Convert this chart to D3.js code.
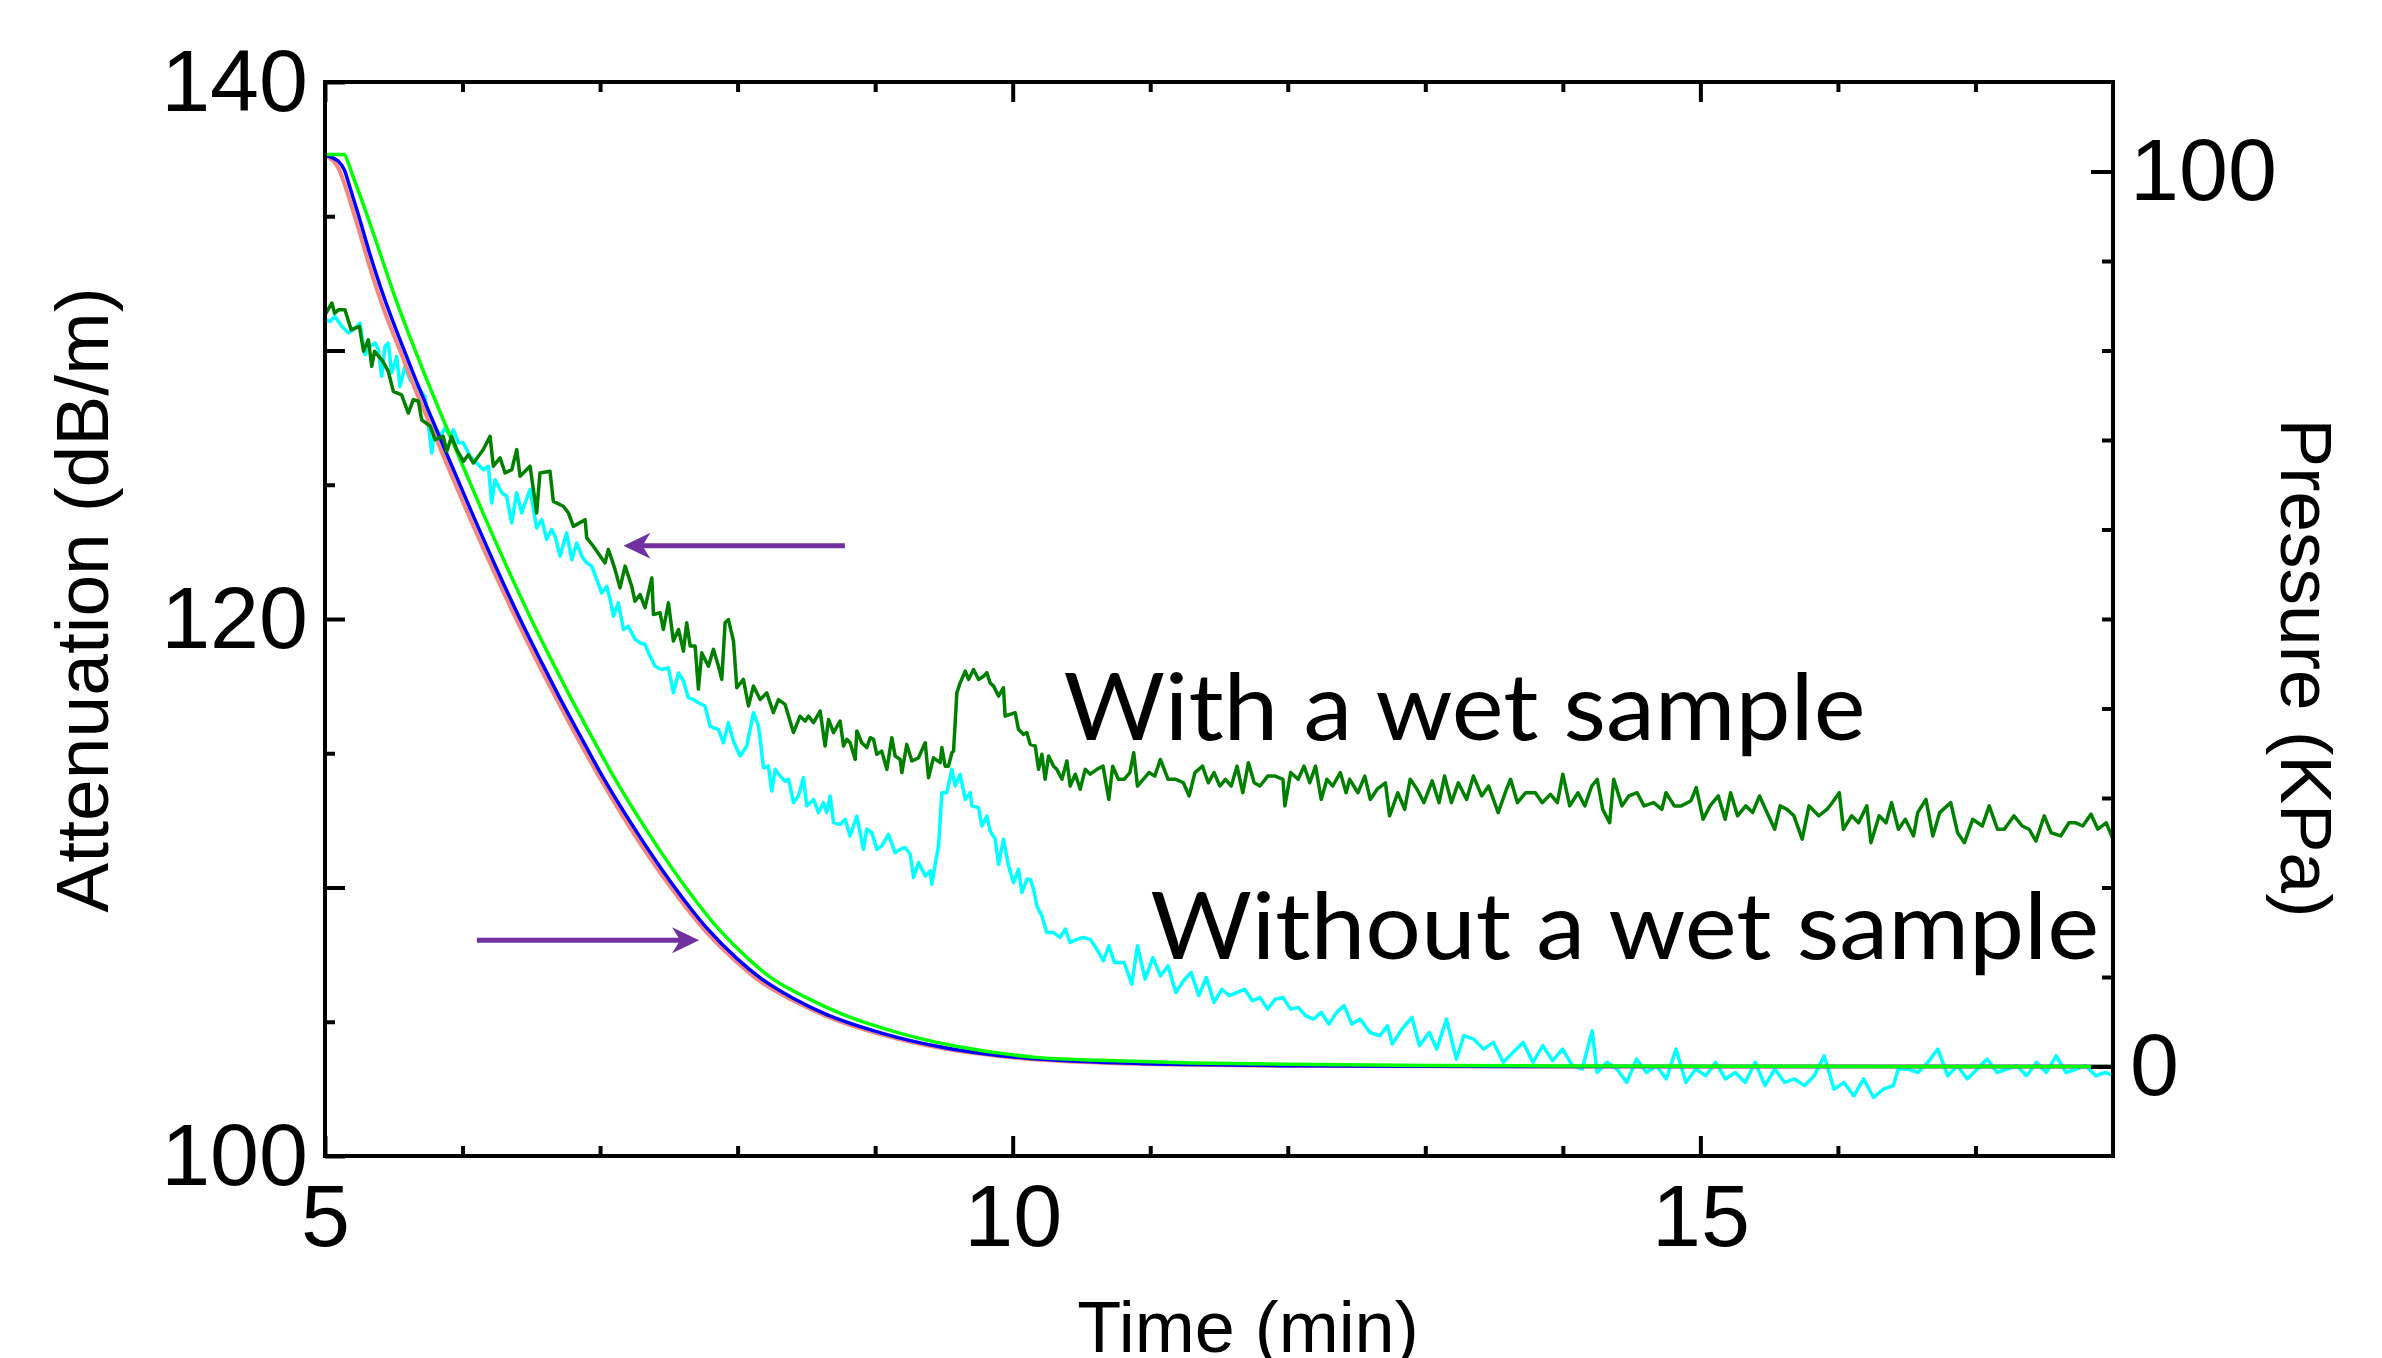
<!DOCTYPE html>
<html>
<head>
<meta charset="utf-8">
<script src="https://cdn.jsdelivr.net/npm/d3@7"></script>
<style>
  html, body { margin: 0; padding: 0; background: #fff; }
  svg { display: block; }
</style>
</head>
<body>
<div id="container"></div>
<script>
const width = 2382;
const height = 1358;
const margin = { t: 82, r: 269, b: 202, l: 325 };

// axes
const timeDomain = [5, 18];
const timeMajor = [5, 10, 15];
const timeMinor = [6, 7, 8, 9, 11, 12, 13, 14, 16, 17];
const attDomain = [100, 140];
const attMajor = [100, 110, 120, 130, 140];
const attLabels = [100, 120, 140];
const attMinor = [105, 115, 125, 135];
const presDomain = [-10, 110];
const presMajor = [0, 100];
const presMinor = [10, 20, 30, 40, 50, 60, 70, 80, 90];

// pressure curves, [time (min), pressure (KPa)]
const pressureRed = [[5.00,101.8],[5.06,101.2],[5.10,100.3],[5.14,98.7],[5.18,96.8],[5.24,93.8],[5.32,89.6],[5.43,84.5],[5.54,80.2],[5.65,75.9],[5.76,71.9],[5.90,66.8],[6.07,60.7],[6.24,54.9],[6.40,49.7],[6.60,43.5],[6.71,40.3],[6.85,36.3],[7.00,32.2],[7.25,25.9],[7.51,20.1],[7.78,14.9],[8.00,11.6],[8.165,9.5],[8.40,7.4],[8.64,5.65],[9.06,3.5],[9.47,2.08],[10.03,0.96],[10.64,0.43],[11.3,0.19],[12.0,0.08],[13.0,0.02],[14.0,0.0],[18.0,0.0]];
const pressureBlue = [[5.00,101.8],[5.06,101.5],[5.10,101.1],[5.14,100.2],[5.18,98.3],[5.24,95.3],[5.32,91.1],[5.43,85.9],[5.54,81.4],[5.65,77.1],[5.76,73.0],[5.90,67.9],[6.07,61.8],[6.24,55.9],[6.40,50.6],[6.60,44.4],[6.71,41.1],[6.85,37.1],[7.00,32.9],[7.25,26.6],[7.51,20.7],[7.78,15.4],[8.00,12.0],[8.165,9.9],[8.40,7.66],[8.64,5.86],[9.06,3.68],[9.47,2.2],[10.03,1.02],[10.64,0.47],[11.3,0.21],[12.0,0.09],[13.0,0.03],[14.0,0.0],[18.0,0.0]];
const pressureGreen = [[5.00,101.9],[5.14,101.9],[5.17,100.9],[5.20,99.6],[5.263,97.0],[5.32,94.5],[5.40,90.9],[5.51,85.9],[5.62,81.4],[5.73,77.1],[5.84,73.0],[5.98,67.9],[6.15,61.8],[6.32,55.9],[6.48,50.6],[6.68,44.4],[6.79,41.1],[6.93,37.1],[7.08,32.9],[7.33,26.6],[7.59,20.7],[7.86,15.4],[8.08,12.0],[8.245,9.9],[8.50,7.7],[8.76,5.86],[9.19,3.68],[9.61,2.2],[10.17,1.02],[10.64,0.7],[11.3,0.4],[12.0,0.25],[13.0,0.12],[14.0,0.06],[15.0,0.03],[18.0,0.0]];

// attenuation, [time (min), dB/m]
const withWet = [[5.00,131.33],[5.05,131.77],[5.07,131.39],[5.10,131.52],[5.145,131.52],[5.19,130.77],[5.25,130.90],[5.28,129.97],[5.315,130.40],[5.34,129.41],[5.36,129.97],[5.42,129.60],[5.46,129.22],[5.497,128.48],[5.557,128.35],[5.606,127.67],[5.642,128.17],[5.679,128.11],[5.703,127.42],[5.764,127.18],[5.80,126.68],[5.86,126.80],[5.885,126.24],[5.921,126.80],[5.958,126.31],[6.006,125.87],[6.042,126.12],[6.079,125.81],[6.151,126.31],[6.20,126.80],[6.224,125.69],[6.273,126.0],[6.309,125.44],[6.358,125.56],[6.394,126.31],[6.418,125.32],[6.491,125.69],[6.539,123.95],[6.563,125.44],[6.636,125.50],[6.66,124.38],[6.733,124.20],[6.77,123.95],[6.806,123.45],[6.891,123.70],[6.903,123.02],[6.951,122.71],[7.036,122.09],[7.06,122.59],[7.085,122.22],[7.109,121.84],[7.145,121.16],[7.182,121.97],[7.23,121.22],[7.254,120.66],[7.291,120.91],[7.327,120.42],[7.376,121.53],[7.388,120.17],[7.436,120.23],[7.46,119.61],[7.497,120.60],[7.533,119.18],[7.57,119.61],[7.606,118.80],[7.63,119.86],[7.655,118.99],[7.691,118.99],[7.715,117.39],[7.739,118.74],[7.788,118.24],[7.824,118.87],[7.861,118.24],[7.885,117.75],[7.909,119.86],[7.933,119.98],[7.97,119.18],[7.994,117.44],[8.042,117.75],[8.079,116.76],[8.115,117.50],[8.164,117.0],[8.212,117.25],[8.26,116.51],[8.297,117.0],[8.345,116.82],[8.406,115.77],[8.454,116.38],[8.491,116.2],[8.515,116.38],[8.552,116.14],[8.60,116.57],[8.636,115.27],[8.661,116.26],[8.697,115.77],[8.745,116.2],[8.77,115.27],[8.794,115.52],[8.818,115.39],[8.855,114.77],[8.867,115.83],[8.903,115.39],[8.939,115.21],[8.964,115.58],[8.988,115.52],[9.012,114.96],[9.048,115.08],[9.085,114.40],[9.121,115.58],[9.145,114.90],[9.182,114.77],[9.194,114.28],[9.23,115.33],[9.267,114.71],[9.315,114.83],[9.364,115.39],[9.388,114.09],[9.424,114.83],[9.473,114.65],[9.485,115.21],[9.509,114.52],[9.533,114.52],[9.558,115.02],[9.57,115.08],[9.594,117.25],[9.618,117.62],[9.655,118.06],[9.679,117.75],[9.715,118.12],[9.752,117.75],[9.788,117.87],[9.812,118.0],[9.836,117.62],[9.861,117.50],[9.897,117.13],[9.933,117.44],[9.945,116.38],[9.982,116.45],[10.018,116.51],[10.042,115.89],[10.079,115.70],[10.103,115.77],[10.127,115.33],[10.164,115.27],[10.188,114.40],[10.212,114.96],[10.236,114.03],[10.261,114.90],[10.297,114.52],[10.321,114.40],[10.358,114.03],[10.394,114.71],[10.418,113.78],[10.455,114.22],[10.491,113.66],[10.527,114.40],[10.564,114.22],[10.612,114.40],[10.657,114.52],[10.699,113.28],[10.727,114.52],[10.768,114.03],[10.81,114.03],[10.852,114.28],[10.88,115.02],[10.907,113.78],[10.949,114.03],[10.991,114.28],[11.033,114.15],[11.074,114.77],[11.13,114.03],[11.186,114.03],[11.241,113.9],[11.283,113.41],[11.325,114.28],[11.38,114.52],[11.422,113.9],[11.464,114.28],[11.506,113.78],[11.547,114.03],[11.589,113.78],[11.631,114.52],[11.673,113.53],[11.714,114.65],[11.756,113.9],[11.798,113.78],[11.854,114.15],[11.909,114.15],[11.965,114.03],[11.979,113.04],[12.021,114.28],[12.076,114.03],[12.118,114.52],[12.16,113.9],[12.202,114.52],[12.243,113.28],[12.285,114.03],[12.327,113.78],[12.382,114.28],[12.424,113.53],[12.45,114.03],[12.51,113.53],[12.56,114.15],[12.60,113.28],[12.65,113.66],[12.71,113.9],[12.74,112.67],[12.80,113.53],[12.85,112.91],[12.89,114.03],[12.94,113.66],[12.99,113.16],[13.05,113.97],[13.10,113.16],[13.14,114.15],[13.19,113.16],[13.24,113.9],[13.30,113.28],[13.35,114.15],[13.41,113.41],[13.46,113.78],[13.53,112.79],[13.59,113.66],[13.62,114.03],[13.67,113.16],[13.73,113.53],[13.80,113.53],[13.85,113.16],[13.91,113.47],[13.96,113.16],[14.0,114.22],[14.05,113.04],[14.11,113.53],[14.16,113.04],[14.21,113.78],[14.25,114.03],[14.29,112.91],[14.34,112.41],[14.37,114.03],[14.43,113.04],[14.48,113.41],[14.54,113.53],[14.59,113.04],[14.66,113.16],[14.72,112.91],[14.75,113.53],[14.81,113.04],[14.86,113.04],[14.93,113.22],[14.97,113.72],[15.02,112.54],[15.07,113.04],[15.13,113.41],[15.18,112.54],[15.22,113.53],[15.27,112.67],[15.33,113.04],[15.38,112.79],[15.43,113.41],[15.49,112.73],[15.54,112.17],[15.58,113.04],[15.63,112.91],[15.68,112.67],[15.74,111.8],[15.79,113.04],[15.86,112.67],[15.92,112.91],[15.95,113.1],[16.01,113.53],[16.04,112.17],[16.10,112.67],[16.15,112.41],[16.21,113.04],[16.24,111.67],[16.30,112.67],[16.35,112.41],[16.39,113.16],[16.44,112.17],[16.49,112.54],[16.55,111.92],[16.58,112.79],[16.64,113.28],[16.69,111.92],[16.74,112.79],[16.82,113.16],[16.87,112.04],[16.92,111.67],[16.98,112.54],[17.05,112.29],[17.10,113.04],[17.16,112.17],[17.21,112.17],[17.28,112.67],[17.34,112.29],[17.39,112.17],[17.44,111.73],[17.50,112.67],[17.55,112.04],[17.62,111.92],[17.68,112.41],[17.73,112.41],[17.78,112.29],[17.84,112.73],[17.89,112.17],[17.95,112.41],[18.0,111.8]];
const withoutWet = [[5.00,131.14],[5.036,131.08],[5.073,131.27],[5.121,130.90],[5.17,130.65],[5.206,130.77],[5.254,131.02],[5.291,129.84],[5.327,130.15],[5.364,130.28],[5.388,130.03],[5.412,129.04],[5.436,130.15],[5.46,130.28],[5.485,129.16],[5.521,129.78],[5.545,128.66],[5.582,129.41],[5.618,128.91],[5.655,128.66],[5.691,128.54],[5.727,128.29],[5.776,126.18],[5.80,127.18],[5.836,126.80],[5.873,127.11],[5.909,126.80],[5.933,127.05],[5.97,126.56],[6.006,126.56],[6.055,126.06],[6.103,125.81],[6.151,125.56],[6.188,125.69],[6.212,124.32],[6.236,125.19],[6.285,124.70],[6.321,124.57],[6.357,123.58],[6.394,124.70],[6.43,123.95],[6.454,124.32],[6.491,124.82],[6.539,123.39],[6.576,123.70],[6.612,122.96],[6.648,123.33],[6.673,123.08],[6.709,122.34],[6.757,123.21],[6.794,122.21],[6.83,122.83],[6.867,122.34],[6.903,122.09],[6.939,121.97],[6.976,121.47],[7.012,120.97],[7.048,121.22],[7.073,120.73],[7.097,120.11],[7.133,120.60],[7.17,119.61],[7.206,119.73],[7.255,119.24],[7.291,119.11],[7.327,119.05],[7.363,118.62],[7.40,118.24],[7.448,118.12],[7.497,118.18],[7.533,117.25],[7.57,117.99],[7.606,117.69],[7.642,117.07],[7.679,117.0],[7.715,116.88],[7.763,116.76],[7.80,116.01],[7.824,115.95],[7.86,115.89],[7.897,115.39],[7.933,116.14],[7.97,115.45],[8.018,114.90],[8.067,115.27],[8.115,116.51],[8.152,116.01],[8.188,114.46],[8.224,114.52],[8.248,113.59],[8.273,114.40],[8.309,114.15],[8.345,113.96],[8.37,114.03],[8.406,113.16],[8.442,113.41],[8.479,114.09],[8.503,113.04],[8.552,113.28],[8.588,112.79],[8.624,113.16],[8.648,112.79],[8.673,113.41],[8.697,112.42],[8.745,112.35],[8.782,112.54],[8.818,111.92],[8.867,112.66],[8.915,111.42],[8.939,112.17],[8.976,112.04],[9.012,111.42],[9.048,111.55],[9.097,111.98],[9.145,111.30],[9.182,111.42],[9.218,111.49],[9.255,111.24],[9.279,110.37],[9.315,110.93],[9.364,110.43],[9.40,110.62],[9.412,110.12],[9.436,110.86],[9.461,111.55],[9.485,113.53],[9.521,113.53],[9.558,114.40],[9.582,113.78],[9.618,114.21],[9.655,113.28],[9.691,113.53],[9.703,113.04],[9.752,112.97],[9.776,112.29],[9.812,112.66],[9.836,112.11],[9.873,111.80],[9.897,110.86],[9.933,111.80],[9.97,110.80],[10.006,110.18],[10.042,110.68],[10.067,109.81],[10.103,110.31],[10.127,110.31],[10.152,109.93],[10.176,109.31],[10.212,108.94],[10.248,108.32],[10.297,108.32],[10.345,108.14],[10.382,108.45],[10.418,107.95],[10.467,108.07],[10.515,108.14],[10.564,108.07],[10.612,107.70],[10.66,107.27],[10.699,107.83],[10.74,107.21],[10.81,107.21],[10.866,106.40],[10.907,107.83],[10.963,106.59],[11.019,107.39],[11.074,106.71],[11.13,107.08],[11.186,106.09],[11.241,106.52],[11.297,106.84],[11.353,105.97],[11.408,106.65],[11.464,105.72],[11.52,106.21],[11.575,105.97],[11.631,106.09],[11.687,106.21],[11.742,105.78],[11.798,105.90],[11.854,105.47],[11.909,105.84],[11.965,105.90],[12.021,105.47],[12.076,105.53],[12.132,105.22],[12.188,105.10],[12.243,105.35],[12.299,104.91],[12.355,105.35],[12.41,105.60],[12.466,104.91],[12.526,105.10],[12.598,104.60],[12.67,104.48],[12.724,104.85],[12.76,104.17],[12.831,104.73],[12.903,105.16],[12.957,104.11],[13.029,104.60],[13.083,103.98],[13.154,105.10],[13.226,103.61],[13.28,104.48],[13.352,104.35],[13.424,103.98],[13.495,104.23],[13.567,103.49],[13.639,103.86],[13.711,104.23],[13.783,103.49],[13.854,104.11],[13.926,103.55],[13.998,103.98],[14.07,103.36],[14.141,103.24],[14.213,104.66],[14.249,103.11],[14.321,103.49],[14.393,103.24],[14.465,102.74],[14.536,103.61],[14.608,103.11],[14.68,103.36],[14.752,102.87],[14.823,103.98],[14.895,102.74],[14.967,103.24],[15.039,102.99],[15.111,103.49],[15.182,102.87],[15.254,103.11],[15.326,102.74],[15.398,103.49],[15.47,102.62],[15.541,103.24],[15.613,102.74],[15.685,102.87],[15.757,102.62],[15.828,102.99],[15.9,103.73],[15.972,102.49],[16.044,102.74],[16.116,102.24],[16.187,102.87],[16.259,102.18],[16.331,102.49],[16.403,102.62],[16.439,103.24],[16.51,103.24],[16.582,103.11],[16.654,103.49],[16.726,103.98],[16.798,102.99],[16.869,103.36],[16.941,102.87],[17.013,103.24],[17.085,103.61],[17.157,103.11],[17.228,103.24],[17.3,103.36],[17.372,102.99],[17.444,103.49],[17.515,103.11],[17.587,103.73],[17.659,103.11],[17.731,103.24],[17.802,103.36],[17.874,102.99],[17.946,103.11],[18.0,102.99]];

const x = d3.scaleLinear().domain(timeDomain).range([margin.l, width - margin.r]);
const yL = d3.scaleLinear().domain(attDomain).range([height - margin.b, margin.t]);
const yR = d3.scaleLinear().domain(presDomain).range([height - margin.b, margin.t]);

const svg = d3.select("#container")
  .append("svg")
  .attr("width", width)
  .attr("height", height)
  .attr("viewBox", `0 0 ${width} ${height}`);

const numFont = "'Liberation Sans', Arial, sans-serif";

function styleAxis(g) {
  g.select(".domain").remove();
  g.attr("font-family", numFont).attr("font-size", 88);
  g.selectAll(".tick line").attr("stroke", "#000").attr("stroke-width", 4);
  g.selectAll(".tick text").attr("fill", "#000");
}

// lines
const attLine = d3.line().x(d => x(d[0])).y(d => yL(d[1]));
const presLine = d3.line().x(d => x(d[0])).y(d => yR(d[1])).curve(d3.curveMonotoneX);

svg.append("path").datum(withoutWet)
  .attr("fill", "none").attr("stroke", "#00ffff").attr("stroke-width", 3.5)
  .attr("stroke-linejoin", "round").attr("d", attLine);

svg.append("path").datum(pressureRed)
  .attr("fill", "none").attr("stroke", "#f4877f").attr("stroke-width", 4).attr("d", presLine);
svg.append("path").datum(pressureBlue)
  .attr("fill", "none").attr("stroke", "#0000ff").attr("stroke-width", 3.5).attr("d", presLine);
svg.append("path").datum(pressureGreen)
  .attr("fill", "none").attr("stroke", "#00ff00").attr("stroke-width", 3.5).attr("d", presLine);

svg.append("path").datum(withWet)
  .attr("fill", "none").attr("stroke", "#008000").attr("stroke-width", 3.5)
  .attr("stroke-linejoin", "round").attr("d", attLine);

// axes
const gBottom = svg.append("g").attr("transform", `translate(0,${height - margin.b})`);
gBottom.append("g").call(d3.axisBottom(x).tickValues(timeMajor).tickSize(-20).tickPadding(28)).call(styleAxis);
gBottom.append("g").call(d3.axisBottom(x).tickValues(timeMinor).tickSize(-10).tickFormat("")).call(styleAxis);

const gTop = svg.append("g").attr("transform", `translate(0,${margin.t})`);
gTop.append("g").call(d3.axisTop(x).tickValues(timeMajor).tickSize(-20).tickFormat("")).call(styleAxis);
gTop.append("g").call(d3.axisTop(x).tickValues(timeMinor).tickSize(-10).tickFormat("")).call(styleAxis);

const gLeft = svg.append("g").attr("transform", `translate(${margin.l},0)`);
gLeft.append("g").call(d3.axisLeft(yL).tickValues(attMajor).tickSize(-20).tickPadding(17)
  .tickFormat(d => attLabels.includes(d) ? d : "")).call(styleAxis);
gLeft.append("g").call(d3.axisLeft(yL).tickValues(attMinor).tickSize(-10).tickFormat("")).call(styleAxis);

const gRight = svg.append("g").attr("transform", `translate(${width - margin.r},0)`);
gRight.append("g").call(d3.axisRight(yR).tickValues(presMajor).tickSize(-22).tickPadding(17)).call(styleAxis);
gRight.append("g").call(d3.axisRight(yR).tickValues(presMinor).tickSize(-11).tickFormat("")).call(styleAxis);

// frame
svg.append("rect")
  .attr("x", margin.l).attr("y", margin.t)
  .attr("width", width - margin.l - margin.r)
  .attr("height", height - margin.t - margin.b)
  .attr("fill", "none").attr("stroke", "#000").attr("stroke-width", 4);

// axis titles
svg.append("text")
  .attr("x", 1248).attr("y", 1352)
  .attr("text-anchor", "middle")
  .attr("font-family", numFont).attr("font-size", 72)
  .text("Time (min)");

svg.append("text")
  .attr("transform", "translate(108,600) rotate(-90)")
  .attr("text-anchor", "middle")
  .attr("font-family", numFont).attr("font-size", 75)
  .text("Attenuation (dB/m)");

svg.append("text")
  .attr("transform", "translate(2281,668) rotate(90)")
  .attr("text-anchor", "middle")
  .attr("font-family", numFont).attr("font-size", 73)
  .text("Pressure (KPa)");

// arrows
const arrowColor = "#7030a0";
function arrow(x1, x2, y) {
  const s = Math.sign(x2 - x1);
  svg.append("line")
    .attr("x1", x1).attr("x2", x2 - s * 18).attr("y1", y).attr("y2", y)
    .attr("stroke", arrowColor).attr("stroke-width", 5);
  svg.append("path")
    .attr("d", `M${x2},${y} L${x2 - s * 27},${y - 13} L${x2 - s * 19},${y} L${x2 - s * 27},${y + 13} Z`)
    .attr("fill", arrowColor);
}
// points at the attenuation curve (left axis)
arrow(x(8.78), x(7.17), yL(122.73));
// points at the pressure curves (right axis)
arrow(x(6.105), x(7.72), yR(14.1));

// curve labels
const noteFont = "Lato, 'Open Sans', sans-serif";
svg.append("text")
  .attr("x", x(10.37)).attr("y", yL(115.51))
  .attr("font-family", noteFont).attr("font-size", 94)
  .attr("textLength", 802).attr("lengthAdjust", "spacingAndGlyphs")
  .text("With a wet sample");
svg.append("text")
  .attr("x", x(11.0)).attr("y", yL(107.33))
  .attr("font-family", noteFont).attr("font-size", 94)
  .attr("textLength", 949).attr("lengthAdjust", "spacingAndGlyphs")
  .text("Without a wet sample");
</script>
</body>
</html>
